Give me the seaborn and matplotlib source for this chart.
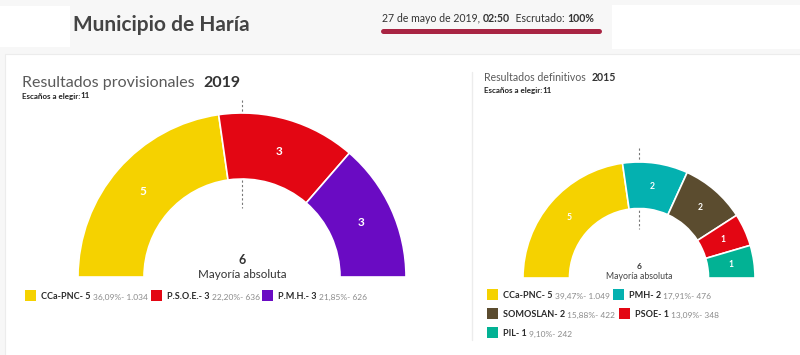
import matplotlib
matplotlib.use("Agg")
import matplotlib.pyplot as plt
import seaborn as sns
from matplotlib.patches import Rectangle

sns.set_style("white")
plt.rcParams['font.family'] = ['Lato', 'DejaVu Sans']

# data
parties_2019 = ["CCa-PNC", "P.S.O.E.", "P.M.H."]
seats_2019 = [5, 3, 3]
pct_2019 = [36.09, 22.20, 21.85]
votes_2019 = [1034, 636, 626]
colors_2019 = ["#f5d200", "#e30613", "#6a0bc3"]

parties_2015 = ["CCa-PNC", "PMH", "SOMOSLAN", "PSOE", "PIL"]
seats_2015 = [5, 2, 2, 1, 1]
pct_2015 = [39.47, 17.91, 15.88, 13.09, 9.10]
votes_2015 = [1049, 476, 422, 348, 242]
colors_2015 = ["#f5d200", "#04b1b0", "#5b4c2f", "#e30613", "#02b294"]

total_seats = 11
majority = 6

DARK = "#333333"
GRAY = "#8a8a8a"


def fmt_pct(v):
    return f"{v:.2f}".replace(".", ",") + "%"


def fmt_votes(v):
    return f"{v:,}".replace(",", ".")


fig = plt.figure(figsize=(8, 3.55), dpi=100)
fig.patch.set_facecolor("#f7f7f7")
ax = fig.add_axes([0, 0, 1, 1])
ax.set_facecolor("none")

# header / panel backgrounds
ax.add_patch(Rectangle((0, 6), 70, 41, facecolor="white", edgecolor="none", zorder=0))
ax.add_patch(Rectangle((612, 5), 190, 44, facecolor="white", edgecolor="none", zorder=0))
ax.add_patch(Rectangle((5, 54), 800, 310, facecolor="white", edgecolor="#ececec", lw=0.8, zorder=0))
ax.plot([472, 472], [72, 340], color="#ececec", lw=1, zorder=0)


def chain(parts, x, y, **kw):
    """draw pieces of text one after another on the same line"""
    prev = None
    for s, size, weight, color in parts:
        if prev is None:
            prev = ax.text(x, y, s, fontsize=size, fontweight=weight, color=color,
                           va="baseline", ha="left", **kw)
        else:
            prev = ax.annotate(s, xy=(1, 0), xycoords=prev, fontsize=size,
                               fontweight=weight, color=color, va="bottom", ha="left", **kw)
    return prev


# header
ax.text(73, 31, "Municipio de Haría", fontsize=15, fontweight="bold", color="#444444", va="baseline")
chain([("27 de mayo de 2019, ", 7.6, "normal", DARK), ("02:50", 7.6, "bold", DARK),
       ("  Escrutado: ", 7.6, "normal", DARK), ("100%", 7.6, "bold", DARK)], 382, 22)
ax.plot([383, 599], [30.5, 30.5], color="#a82443", lw=3.6, solid_capstyle="round")

# panel titles
chain([("Resultados provisionales  ", 11.5, "normal", "#5a5a5a"), ("2019", 11.5, "bold", DARK)], 22, 87)
chain([("Escaños a elegir:", 5.8, "bold", "#222222"), ("11", 5.8, "bold", "#222222")], 22, 98.5)
chain([("Resultados definitivos  ", 7.6, "normal", "#5a5a5a"), ("2015", 7.6, "bold", DARK)], 484, 81)
chain([("Escaños a elegir:", 5.8, "bold", "#222222"), ("11", 5.8, "bold", "#222222")], 484, 93)


def hemicycle(seats, colors, cx, cy, R, r, num_size, top):
    ax.plot([cx, cx], [top, cy - r * 0.7], color="#777777", lw=0.8, ls=(0, (2, 2)), zorder=0)
    wedges, texts = ax.pie(
        list(seats) + [sum(seats)],
        colors=list(colors) + ["none"],
        labels=[str(s) for s in seats] + [""],
        labeldistance=(R + r) / 2 / R,
        startangle=180, counterclock=True,
        center=(cx, cy), radius=R,
        wedgeprops=dict(width=R - r, edgecolor="white", linewidth=1.2),
        textprops=dict(color="white", fontsize=num_size, fontweight="bold"),
    )
    wedges[-1].set_visible(False)
    for t in texts:
        t.set_ha("center")
        t.set_va("center")


hemicycle(seats_2019, colors_2019, 242, 277, 164, 98, 8.5, 100)
hemicycle(seats_2015, colors_2015, 639, 278, 116, 69.5, 6.2, 148)

ax.text(242, 264, str(majority), fontsize=9, fontweight="bold", color=DARK, ha="center", va="baseline")
ax.text(242, 278, "Mayoría absoluta", fontsize=8.4, color=DARK, ha="center", va="baseline")
ax.text(639, 269, str(majority), fontsize=6, fontweight="bold", color=DARK, ha="center", va="baseline")
ax.text(639, 279, "Mayoría absoluta", fontsize=6.3, color="#444444", ha="center", va="baseline")


def legend_item(x, y, name, seats, pct, votes, color):
    ax.add_patch(Rectangle((x, y - 9.5), 11, 11, facecolor=color, edgecolor="none"))
    chain([(f"{name}- {seats} ", 6.5, "bold", "#2a2a2a"),
           (f"{fmt_pct(pct)}- {fmt_votes(votes)}", 6.0, "normal", GRAY)], x + 16, y)


legend_2019_x = [25, 151, 262]
for i, p in enumerate(parties_2019):
    legend_item(legend_2019_x[i], 299, p, seats_2019[i], pct_2019[i], votes_2019[i], colors_2019[i])

legend_2015_pos = [(487, 298), (613, 298), (487, 317), (619, 317), (487, 336)]
for i, p in enumerate(parties_2015):
    x, y = legend_2015_pos[i]
    legend_item(x, y, p, seats_2015[i], pct_2015[i], votes_2015[i], colors_2015[i])

ax.set_xlim(0, 800)
ax.set_ylim(355, 0)
ax.set_aspect("auto")
ax.axis("off")

fig.savefig("out.png", dpi=100, facecolor=fig.get_facecolor())
